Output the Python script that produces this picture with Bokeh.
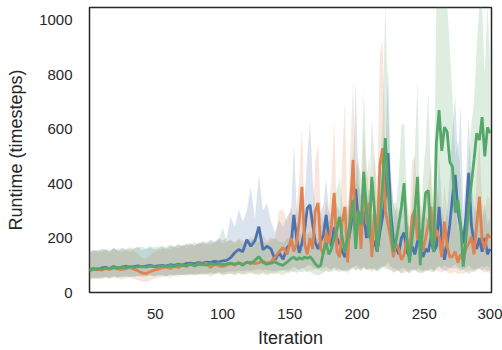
from bokeh.plotting import figure
from bokeh.models import Range1d, FixedTicker
from bokeh.embed import file_html
from bokeh.resources import INLINE

# iterations: every 3rd up to 148, every 2nd afterwards
iterations = list(range(1, 150, 3)) + list(range(151, 300, 2))

blue_mean = [85,88,84,90,92,88,95,90,93,96,92,95,98,94,97,100,96,
             98,100,97,102,100,104,101,106,108,105,110,107,112,110,114,112,116,
             118,128,146,158,150,194,170,190,242,157,170,160,120,146,122,165,
             180,285,200,146,180,230,310,322,250,183,160,190,210,285,200,170,240,200,180,150,
             130,170,230,300,380,260,220,300,200,260,160,190,150,220,278,350,512,300,194,170,
             140,200,220,150,132,170,140,190,183,130,160,150,200,150,170,315,200,120,180,250,
             350,432,300,241,180,280,440,250,183,160,200,150,200,140,160]
blue_hi = [150,158,148,162,155,150,165,152,160,158,150,162,168,155,160,165,158,
           162,168,158,172,165,175,168,180,172,185,176,190,180,195,186,200,192,
           200,278,240,304,260,300,388,270,432,300,329,260,220,265,240,280,
           300,540,320,250,300,350,500,630,420,300,260,300,320,420,300,280,360,320,300,260,
           230,300,350,420,780,400,350,460,330,380,280,300,260,360,420,500,845,450,320,300,
           240,320,360,260,240,300,250,320,320,230,280,260,330,260,290,500,330,240,300,420,
           600,725,480,690,300,420,650,400,320,290,320,270,330,250,280]
blue_lo = [52,55,50,56,58,54,60,55,58,60,56,58,62,58,60,63,60,
           62,64,60,65,63,66,64,68,66,70,67,72,69,74,71,76,73,
           75,78,76,80,78,82,80,84,86,82,84,80,78,82,80,84,
           86,95,88,82,88,92,98,100,92,86,84,88,90,96,88,85,92,88,86,82,
           80,84,88,92,100,92,88,94,86,90,85,88,84,90,94,98,110,95,88,86,
           82,88,90,84,80,86,82,88,86,80,84,82,88,82,84,96,86,78,84,90,
           96,104,92,90,84,90,100,88,84,82,86,80,86,78,82]

orange_mean = [80,84,86,82,88,85,90,86,84,88,92,86,80,72,70,76,82,
               86,90,94,88,96,92,100,95,104,98,106,100,108,92,104,98,96,
               100,106,100,108,104,110,112,106,110,115,108,112,130,150,165,140,
               200,150,180,260,388,180,140,200,160,300,329,160,140,220,180,250,366,150,130,260,
               315,110,300,487,200,300,160,425,250,330,130,300,200,470,530,300,250,200,130,180,
               160,120,140,200,150,280,304,194,230,150,200,250,315,180,230,200,130,260,170,130,
               132,150,110,140,120,160,180,205,140,250,352,194,160,215,200]
orange_hi = [145,152,155,148,158,150,160,154,148,156,162,152,140,128,124,138,150,
             155,160,165,156,170,162,175,166,180,170,185,176,190,172,186,195,180,
             186,195,180,200,192,186,205,196,182,210,190,205,195,300,304,260,
             320,260,300,420,600,300,250,340,280,480,548,300,260,340,300,420,633,280,260,500,
             706,220,520,768,450,500,300,600,420,500,240,520,380,878,925,520,420,380,240,320,
             300,220,260,340,280,480,500,320,380,260,330,400,480,320,400,340,240,400,300,230,
             260,330,220,250,240,280,320,340,260,420,560,330,280,360,330]
orange_lo = [48,50,52,48,54,50,55,52,48,52,56,50,45,40,38,44,50,
             54,56,60,54,62,58,64,60,66,62,68,64,70,58,66,72,62,
             66,70,62,72,68,64,75,70,62,76,66,72,66,78,84,74,
             80,76,82,86,90,84,78,82,80,86,88,80,76,82,80,84,90,78,74,80,
             84,70,82,95,84,86,78,92,82,86,74,84,80,92,100,86,84,82,72,80,
             78,68,72,76,72,82,84,76,78,70,76,80,86,76,82,78,72,84,74,70,
             72,76,66,70,68,74,78,82,72,86,90,80,72,76,70]

green_mean = [82,85,88,86,90,88,92,90,93,91,95,92,94,96,93,97,95,
              96,98,95,100,97,102,99,100,104,98,102,105,100,106,103,108,102,
              105,108,104,110,100,112,106,118,132,110,104,108,112,104,100,112,
              125,130,120,128,122,130,125,132,120,105,95,100,150,183,140,160,200,230,278,200,
              150,200,260,340,160,300,250,443,300,200,425,300,150,250,400,567,380,250,150,190,
              250,315,402,200,110,200,300,425,100,250,366,375,200,150,550,670,520,607,590,480,
              461,293,340,250,95,200,305,400,487,585,560,644,500,607,585]
green_hi = [148,152,156,154,160,156,162,158,164,160,166,162,165,168,163,170,166,
            168,172,166,176,170,178,174,176,182,172,180,184,176,188,182,190,242,
            186,192,184,196,178,198,190,200,230,188,180,194,200,188,182,198,
            205,215,200,218,210,220,212,225,210,190,200,240,260,300,260,280,340,380,420,330,
            290,320,400,520,380,480,420,740,480,340,645,480,320,450,620,1060,700,420,330,330,
            420,615,620,340,220,340,520,780,200,420,548,735,400,300,1060,1060,1060,1060,1060,900,
            720,500,560,420,200,330,480,620,700,900,1060,1060,800,1060,835]
green_lo = [50,52,55,53,56,54,58,56,58,57,60,58,60,62,59,62,60,
            62,63,60,65,62,66,64,65,68,63,66,68,64,70,67,71,66,
            68,70,67,72,64,74,70,66,72,68,64,70,74,68,64,72,
            74,76,72,76,74,78,74,76,70,66,62,66,72,80,74,76,80,82,84,78,
            76,80,84,88,80,86,82,90,84,80,88,84,76,82,90,96,88,84,78,76,
            80,72,82,76,70,80,82,74,70,76,82,80,76,74,92,96,90,100,94,90,
            88,90,86,80,84,76,66,74,80,88,90,96,92,100,90]

x_ticks = [50, 100, 150, 200, 250, 300]
y_ticks = [0, 200, 400, 600, 800, 1000]

series = [
    (blue_mean, blue_lo, blue_hi, "#4C72B0"),
    (orange_mean, orange_lo, orange_hi, "#DD8452"),
    (green_mean, green_lo, green_hi, "#55A868"),
]

p = figure(width=502, height=350, output_backend="svg", toolbar_location=None,
           x_range=Range1d(1, 300), y_range=Range1d(0, 1047))
p.min_border_left = 89
p.min_border_right = 11
p.min_border_top = 7
p.min_border_bottom = 57

for m, lo, hi, c in series:
    p.varea(x=iterations, y1=lo, y2=hi, fill_color=c, fill_alpha=0.2)
for m, lo, hi, c in series:
    p.line(x=iterations, y=m, line_color=c, line_width=2.8)

p.xgrid.visible = False
p.ygrid.visible = False
p.outline_line_color = "#262626"
p.outline_line_width = 1.5
p.background_fill_color = "white"
p.border_fill_color = "white"

for ax in (p.xaxis[0], p.yaxis[0]):
    ax.axis_line_color = None
    ax.major_tick_line_color = None
    ax.minor_tick_line_color = None
    ax.major_tick_out = 0
    ax.major_tick_in = 0
    ax.major_label_text_font = "Liberation Sans"
    ax.major_label_text_font_size = "15px"
    ax.major_label_text_color = "#262626"
    ax.axis_label_text_font = "Liberation Sans"
    ax.axis_label_text_font_size = "18px"
    ax.axis_label_text_font_style = "normal"
    ax.axis_label_text_color = "#262626"

p.xaxis.ticker = FixedTicker(ticks=x_ticks)
p.yaxis.ticker = FixedTicker(ticks=y_ticks)
p.xaxis.axis_label = "Iteration"
p.yaxis.axis_label = "Runtime (timesteps)"
p.xaxis.major_label_standoff = 16
p.yaxis.major_label_standoff = 17
p.xaxis.axis_label_standoff = 6
p.yaxis.axis_label_standoff = 10

open("out.html", "w").write(file_html(p, INLINE))
